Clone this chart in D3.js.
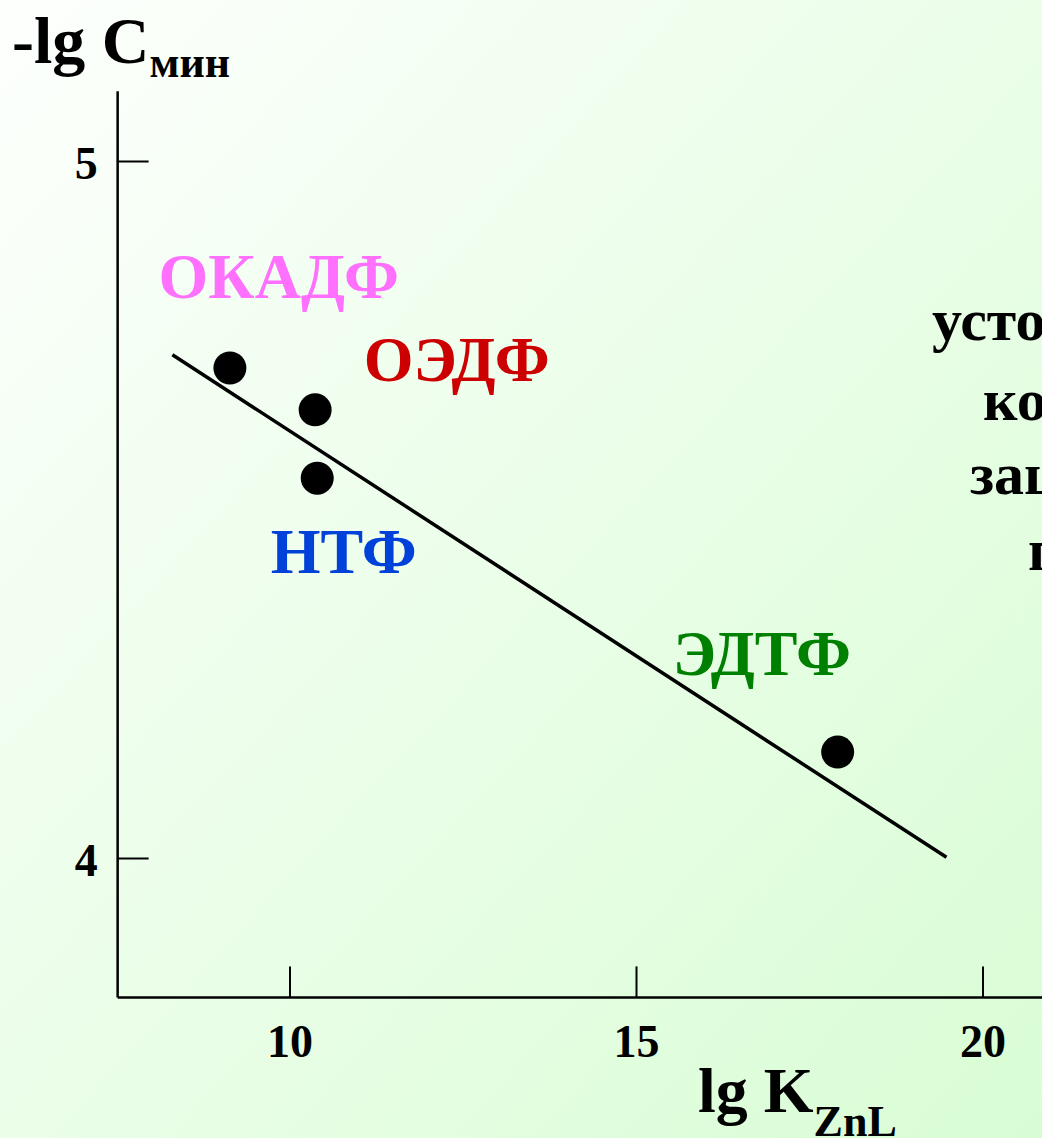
<!DOCTYPE html>
<html>
<meta charset="utf-8">
<head>
<title>lg K ZnL - lg C min</title>
<style>
body { margin: 0; overflow: hidden; }
svg text { font-family: "Liberation Serif", "Times New Roman", serif; font-weight: bold; }
.axis path { display: none; }
.axis line { stroke: #000; stroke-width: 2px; }
.axis text { font-size: 46px; fill: #000; }
</style>
</head>
<body>
<script src="https://cdnjs.cloudflare.com/ajax/libs/d3/7.8.5/d3.min.js"></script>
<script>

// data
var names  = ["ОКАДФ", "ОЭДФ", "НТФ", "ЭДТФ"];
var lgK    = [9.14, 10.37, 10.40, 17.91];
var lgC    = [4.703, 4.643, 4.545, 4.152];
var colors = ["#ff70ff", "#cc0000", "#0041d9", "#008000"];
// label anchors, in data units (left edge, baseline)
var labelK = [8.11, 11.07, 9.73, 15.53];
var labelC = [4.803, 4.684, 4.409, 4.263];
// fitted line ends
var fitK = [8.31, 19.48];
var fitC = [4.722, 4.001];
var xTicks = [10, 15, 20];
var yTicks = [4, 5];
var sideText = ["устойчивость", "комплекса", "защитной", "плёнки"];

var W = 1042, H = 1138;

var svg = d3.select("body").append("svg")
    .attr("width", W)
    .attr("height", H);

// background gradient
var grad = svg.append("defs").append("linearGradient")
    .attr("id", "bg")
    .attr("x1", "0%").attr("y1", "0%")
    .attr("x2", "100%").attr("y2", "100%");
grad.append("stop").attr("offset", "0%").attr("stop-color", "#fdfffd");
grad.append("stop").attr("offset", "100%").attr("stop-color", "#d8fdd4");
svg.append("rect")
    .attr("width", W).attr("height", H)
    .attr("fill", "url(#bg)");

var x = d3.scaleLinear().domain([10, 20]).range([289.5, 982.5]);
var y = d3.scaleLinear().domain([4, 5]).range([858, 161]);

var x0 = 7.52, y0 = 3.80, yTop = 5.1;

// axes lines
svg.append("line")
    .attr("x1", x(x0)).attr("x2", x(x0))
    .attr("y1", y(yTop)).attr("y2", y(y0))
    .style("stroke", "#000").style("stroke-width", 2.5);
svg.append("line")
    .attr("x1", x(x0)).attr("x2", W + 10)
    .attr("y1", y(y0)).attr("y2", y(y0))
    .style("stroke", "#000").style("stroke-width", 2.5);

svg.append("g")
    .attr("class", "axis")
    .attr("transform", "translate(0," + y(y0) + ")")
    .call(d3.axisBottom(x).tickValues(xTicks).tickSize(-31).tickPadding(27)
      .tickFormat(d3.format("d")));

svg.append("g")
    .attr("class", "axis")
    .attr("transform", "translate(" + x(x0) + ",0)")
    .call(d3.axisLeft(y).tickValues(yTicks).tickSize(-31).tickPadding(20)
      .tickFormat(d3.format("d")))
  .selectAll("text")
    .attr("dy", "0.38em");

// fitted line
svg.append("line")
    .attr("x1", x(fitK[0])).attr("y1", y(fitC[0]))
    .attr("x2", x(fitK[1])).attr("y2", y(fitC[1]))
    .style("stroke", "#000").style("stroke-width", 3.5);

// points
svg.selectAll(".dot")
    .data(lgK).enter()
    .append("circle")
    .attr("class", "dot")
    .attr("cx", function(d) { return x(d); })
    .attr("cy", function(d, i) { return y(lgC[i]); })
    .attr("r", 16.5)
    .style("fill", "#000");

// labels
svg.selectAll(".lab")
    .data(names).enter()
    .append("text")
    .attr("class", "lab")
    .attr("x", function(d, i) { return x(labelK[i]); })
    .attr("y", function(d, i) { return y(labelC[i]); })
    .style("font-size", "64px")
    .style("fill", function(d, i) { return colors[i]; })
    .text(function(d) { return d; });

// axis titles
var yt = svg.append("text")
    .attr("x", 12).attr("y", 63)
    .style("font-size", "66px");
yt.append("tspan").text("-lg C");
yt.append("tspan").attr("dy", 14).style("font-size", "44px").text("мин");

var xt = svg.append("text")
    .attr("x", 698).attr("y", 1112)
    .style("font-size", "64px");
xt.append("tspan").text("lg K");
xt.append("tspan").attr("dy", 24).style("font-size", "44px").text("ZnL");

// side note, runs off the right edge
var sideX = [932, 983, 970, 1028];
var sideY = [340, 420, 494, 570];
svg.selectAll(".side")
    .data(sideText).enter()
    .append("text")
    .attr("class", "side")
    .attr("x", function(d, i) { return sideX[i]; })
    .attr("y", function(d, i) { return sideY[i]; })
    .style("font-size", "60px")
    .style("fill", "#000")
    .text(function(d) { return d; });

</script>
</body>
</html>
